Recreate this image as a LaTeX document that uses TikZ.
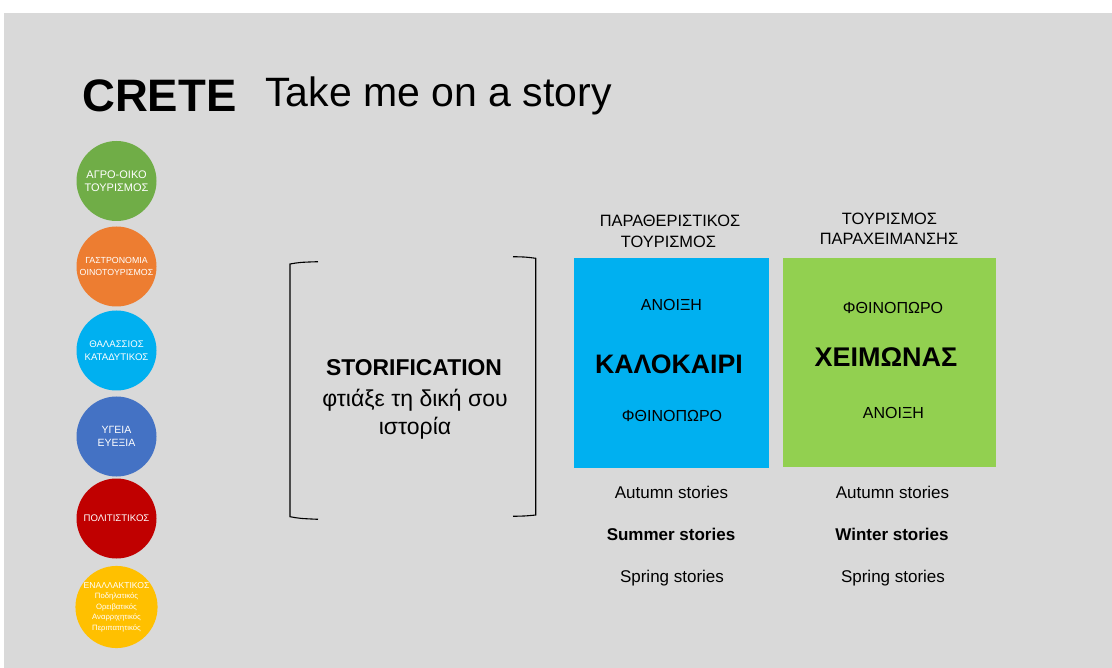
\documentclass[tikz,border=0pt]{standalone}
\usepackage{fontspec}
\setmainfont{Liberation Sans}
\definecolor{bggray}{HTML}{D9D9D9}
\definecolor{agrogreen}{HTML}{70AD47}
\definecolor{gastroorange}{HTML}{ED7D31}
\definecolor{seacyan}{HTML}{00B0F0}
\definecolor{healthblue}{HTML}{4472C4}
\definecolor{culturered}{HTML}{C00000}
\definecolor{altyellow}{HTML}{FFC000}
\definecolor{wintergreen}{HTML}{92D050}
\newcommand{\fsz}[2]{\fontsize{#1}{#2}\selectfont}
\tikzset{
  topic/.style={circle, minimum size=80pt, inner sep=0pt, text=white, align=center},
  season/.style={anchor=base, inner sep=0pt},
}
\begin{document}
\begin{tikzpicture}[x=1pt, y=-1pt]
        \useasboundingbox (0,0) rectangle (1112,668);
        \fill [white] (0,0) rectangle (1112,668);
        \fill [bggray] (4,13) rectangle (1112,668);
        % title
        \node [anchor=base west, inner sep=0pt, font=\fsz{45.5}{50}\bfseries] (CRETE) at (82,112) {CRETE};
        \node [anchor=base west, inner sep=0pt, font=\fsz{41}{46}] (TITLE) at (265,107) {Take me on a story};
        % kinds of tourism
        \begin{scope}[every node/.style={topic}]
            \node [fill=agrogreen, font=\fsz{11}{13.5}] (A) at (116.5,181) {ΑΓΡΟ-ΟΙΚΟ\\ΤΟΥΡΙΣΜΟΣ};
            \node [fill=gastroorange, font=\fsz{8.8}{11.5}] (B) at (116.5,266.5) {ΓΑΣΤΡΟΝΟΜΙΑ\\ΟΙΝΟΤΟΥΡΙΣΜΟΣ};
            \node [fill=seacyan, font=\fsz{9.6}{13}] (C) at (116.5,350.5) {ΘΑΛΑΣΣΙΟΣ\\ΚΑΤΑΔΥΤΙΚΟΣ};
            \node [fill=healthblue, font=\fsz{10.5}{13.5}] (D) at (116.5,436.5) {ΥΓΕΙΑ\\ΕΥΕΞΙΑ};
            \node [fill=culturered, font=\fsz{9.6}{12}] (E) at (116.5,518.5) {ΠΟΛΙΤΙΣΤΙΚΟΣ};
            \node [fill=altyellow, font=\fsz{7.7}{10.5}] (F) at (116.5,607) {{\fsz{8.6}{10.5}ΕΝΑΛΛΑΚΤΙΚΟΣ}\\Ποδηλατικός\\Ορειβατικός\\Αναρριχητικός\\Περιπατητικός};
        \end{scope}
        % bracket
        \draw [line width=1.1pt] (318,261.7) .. controls (300,262.3) .. (290,264) -- (290,516.7) .. controls (300,518.5) .. (318,519.3);
        \draw [line width=1.1pt] (513,256.7) .. controls (526,257) .. (535.7,258.3) -- (535.7,515) .. controls (526,516) .. (513,516.3);
        \node [season, font=\fsz{22.9}{26}\bfseries] (S1) at (414,376) {STORIFICATION};
        \node [season, font=\fsz{23}{26}] (S2) at (415,407) {φτιάξε τη δική σου};
        \node [season, font=\fsz{23}{26}] (S3) at (415,435) {ιστορία};
        % summer
        \node [season, font=\fsz{16.4}{18}] (H1) at (670,227) {ΠΑΡΑΘΕΡΙΣΤΙΚΟΣ};
        \node [season, font=\fsz{16.4}{18}] (H2) at (668.5,248) {ΤΟΥΡΙΣΜΟΣ};
        \fill [seacyan] (574,258) rectangle (769,468);
        \node [season, font=\fsz{16}{19}] (SU1) at (671.5,311) {ΑΝΟΙΞΗ};
        \node [season, font=\fsz{26.7}{30}\bfseries] (SU2) at (669,374) {ΚΑΛΟΚΑΙΡΙ};
        \node [season, font=\fsz{16}{19}] (SU3) at (672,422) {ΦΘΙΝΟΠΩΡΟ};
        \node [season, font=\fsz{17}{19}] (ST1) at (671.5,498) {Autumn stories};
        \node [season, font=\fsz{17}{19}\bfseries] (ST2) at (671,540) {Summer stories};
        \node [season, font=\fsz{17}{19}] (ST3) at (672,582) {Spring stories};
        % winter
        \node [season, font=\fsz{16.4}{18}] (H3) at (889.5,225) {ΤΟΥΡΙΣΜΟΣ};
        \node [season, font=\fsz{16.4}{18}] (H4) at (889,245) {ΠΑΡΑΧΕΙΜΑΝΣΗΣ};
        \fill [wintergreen] (783,258) rectangle (996,467);
        \node [season, font=\fsz{16}{19}] (WI1) at (893,314) {ΦΘΙΝΟΠΩΡΟ};
        \node [season, font=\fsz{27}{30}\bfseries] (WI2) at (886,367) {ΧΕΙΜΩΝΑΣ};
        \node [season, font=\fsz{16}{19}] (WI3) at (893.5,419) {ΑΝΟΙΞΗ};
        \node [season, font=\fsz{17}{19}] (WT1) at (892.5,498) {Autumn stories};
        \node [season, font=\fsz{17}{19}\bfseries] (WT2) at (892,540) {Winter stories};
        \node [season, font=\fsz{17}{19}] (WT3) at (893,582) {Spring stories};
    \end{tikzpicture}
\end{document}
